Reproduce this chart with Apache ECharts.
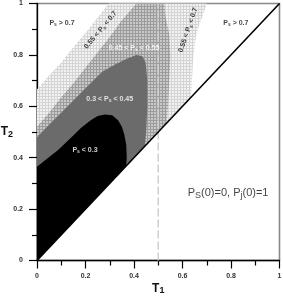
<!DOCTYPE html>
<html><head><meta charset="utf-8">
<script src="https://cdn.jsdelivr.net/npm/echarts@6/dist/echarts.min.js"></script>
<style>html,body{margin:0;padding:0;background:#fff}#c{width:283px;height:296px}</style>
</head><body><div id="c"></div>
<script>
// Axis ticks
var xTicks = [0, 0.2, 0.4, 0.6, 0.8, 1];
var yTicks = [0, 0.2, 0.4, 0.6, 0.8, 1];

// Region boundaries (T1, T2), each closed along the diagonal T2 = T1
var regionPs07 = [[0,0],[0,0.665],[0.05,0.72],[0.1,0.77],[0.15,0.83],[0.2,0.885],[0.25,0.945],[0.295,1.0],
  [0.70,1.0],[0.69,0.97],[0.67,0.92],[0.655,0.87],[0.645,0.8],[0.64,0.72],[0.635,0.635]];
var regionPs055 = [[0,0],[0,0.52],[0.05,0.575],[0.1,0.635],[0.15,0.69],[0.2,0.75],[0.25,0.81],[0.3,0.87],[0.35,0.935],[0.41,1.0],
  [0.525,1.0],[0.53,0.95],[0.545,0.88],[0.55,0.8],[0.545,0.7],[0.54,0.6],[0.535,0.535]];
var regionPs045 = [[0,0],[0,0.48],[0.05,0.528],[0.1,0.575],[0.15,0.623],[0.2,0.67],[0.27,0.735],[0.32,0.762],[0.37,0.785],[0.41,0.8],
  [0.435,0.795],[0.448,0.77],[0.455,0.7],[0.455,0.6],[0.45,0.5],[0.445,0.445]];
var regionPs03 = [[0,0],[0,0.365],[0.04,0.395],[0.087,0.43],[0.14,0.478],[0.18,0.515],[0.22,0.545],[0.25,0.562],[0.28,0.568],
  [0.31,0.565],[0.335,0.545],[0.35,0.52],[0.36,0.49],[0.368,0.45],[0.37,0.4],[0.368,0.368]];
var diagonal = [[0,0],[1,1]];
var dashedLine = [[0.5,0],[0.5,1]];

// Annotations
var labelTexts = ['P{s|s} > 0.7', '0.55 < P{s|s} < 0.7', '0.45 < P{s|s} < 0.55', '0.55 < P{s|s} < 0.7', 'P{s|s} > 0.7',
  '0.3 < P{s|s} < 0.45', 'P{s|s} < 0.3'];
var labelX = [0.103, 0.262, 0.40, 0.623, 0.82, 0.30, 0.198];
var labelY = [0.924, 0.897, 0.827, 0.897, 0.924, 0.628, 0.43];
var labelRot = [0, 50, 0, 71, 0, 0, 0];
var labelColor = ['#111', '#111', '#fff', '#111', '#111', '#fff', '#fff'];
var noteText = 'P{s|S}(0)=0, P{s|j}(0)=1';
var notePos = [0.788, 0.262];

function makePattern(line, cell) {
  var c = document.createElement('canvas'); c.width = 3; c.height = 3;
  var g = c.getContext('2d');
  g.fillStyle = line; g.fillRect(0, 0, 3, 3);
  g.fillStyle = cell; g.fillRect(1, 1, 2, 2);
  return {image: c, repeat: 'repeat'};
}

function polySeries(points, fill, z) {
  return {
    type: 'custom', coordinateSystem: 'cartesian2d', data: points, encode: {x: 0, y: 1},
    z: z, silent: true, animation: false,
    renderItem: function (params, api) {
      if (params.dataIndex !== 0) return null;
      var pts = points.map(function (p) { return api.coord(p); });
      return {type: 'polygon', shape: {points: pts}, style: {fill: fill, stroke: null}};
    }
  };
}

var chart = echarts.init(document.getElementById('c'), null, {renderer: 'canvas'});
var font = 'Liberation Sans, Arial, sans-serif';
var labelData = labelTexts.map(function (t, i) {
  return {value: [labelX[i], labelY[i]], label: {formatter: t, rotate: labelRot[i], color: labelColor[i],
    rich: {s: {fontSize: 5, padding: [4, 0, 0, 0], color: labelColor[i], fontFamily: font}}}};
});
labelData.push({value: notePos, label: {formatter: noteText, fontSize: 11, fontWeight: 'normal', color: '#111',
  rich: {s: {fontSize: 9, padding: [5, 0, 0, 0], color: '#111', fontFamily: font}}}});

var axisCommon = {
  type: 'value', min: 0, max: 1, interval: 0.2,
  axisLine: {show: true, lineStyle: {color: '#000', width: 1.3}},
  axisTick: {show: true, length: 8, lineStyle: {color: '#000', width: 1.2}},
  minorTick: {show: true, splitNumber: 2, length: 5, lineStyle: {color: '#000', width: 1.2}},
  splitLine: {show: false},
  nameMoveOverlap: false,
  axisLabel: {fontSize: 7, fontWeight: 'bold', color: '#333', fontFamily: font,
    formatter: function (v) { return String(Math.round(v * 10) / 10); }}
};

chart.setOption({
  animation: false,
  grid: {left: 37, right: 3.5, top: 3.5, bottom: 35.5, containLabel: false, outerBoundsMode: 'none',
    show: true, borderColor: '#888', borderWidth: 1.6, backgroundColor: 'transparent'},
  xAxis: Object.assign({}, axisCommon, {
    axisLabel: Object.assign({}, axisCommon.axisLabel, {margin: 12}),
    name: 'T{s|1}', nameLocation: 'middle', nameGap: 21,
    nameTextStyle: {fontSize: 12, fontWeight: 'bold', color: '#111', fontFamily: font,
      rich: {s: {fontSize: 9, fontWeight: 'bold', padding: [5, 0, 0, 0], fontFamily: font}}}
  }),
  yAxis: Object.assign({}, axisCommon, {
    axisLabel: Object.assign({}, axisCommon.axisLabel, {margin: 14}),
    name: 'T{s|2}', nameLocation: 'middle', nameGap: 24, nameRotate: 0,
    nameTextStyle: {fontSize: 12, fontWeight: 'bold', color: '#111', fontFamily: font,
      rich: {s: {fontSize: 9, fontWeight: 'bold', padding: [5, 0, 0, 0], fontFamily: font}}}
  }),
  series: [
    polySeries(regionPs07, makePattern('#d4d4d4', '#f2f2f2'), 1),
    polySeries(regionPs055, makePattern('#9c9c9c', '#c8c8c8'), 2),
    polySeries(regionPs045, '#6b6b6b', 3),
    polySeries(regionPs03, '#000', 4),
    {type: 'line', data: dashedLine, z: 5, symbol: 'none', silent: true,
      lineStyle: {color: '#cfcfcf', width: 1.5, type: [8, 3]}},
    {type: 'line', data: diagonal, z: 6, symbol: 'none', silent: true,
      lineStyle: {color: '#000', width: 1.6}},
    {type: 'scatter', data: labelData, symbolSize: 0, z: 7, silent: true,
      label: {show: true, position: 'inside', fontSize: 7, fontWeight: 'bold', fontFamily: font}}
  ]
});
</script></body></html>
